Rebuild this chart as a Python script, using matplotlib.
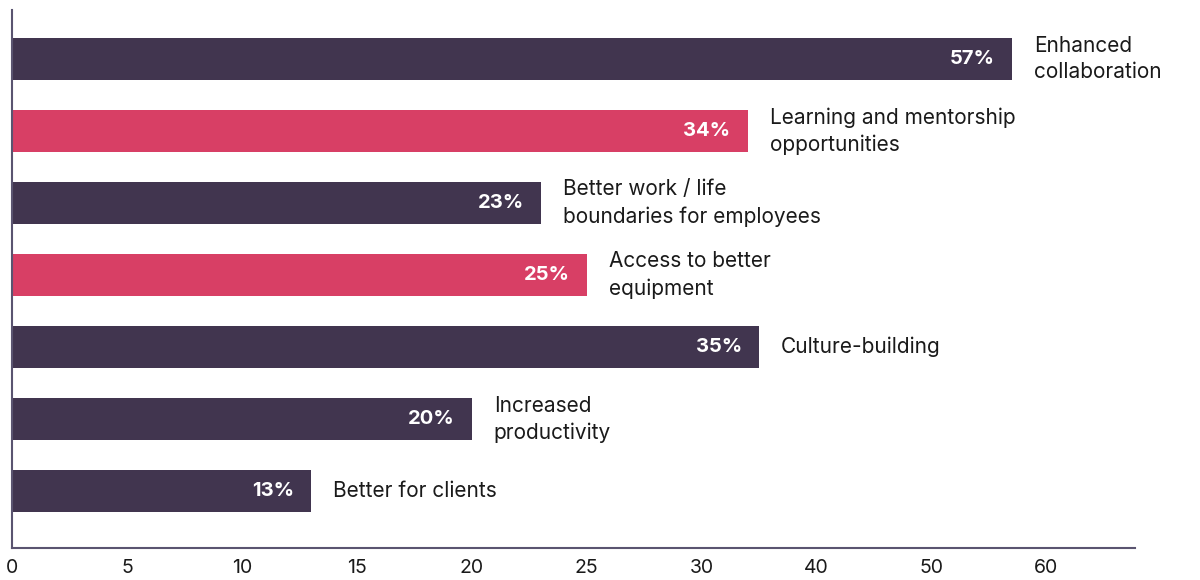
import matplotlib
matplotlib.use("Agg")
import matplotlib.pyplot as plt
import numpy as np

# Survey results: benefits of returning to the office
categories = [
    "Enhanced\ncollaboration",
    "Learning and mentorship\nopportunities",
    "Better work / life\nboundaries for employees",
    "Access to better\nequipment",
    "Culture-building",
    "Increased\nproductivity",
    "Better for clients",
]
values = [57, 34, 23, 25, 35, 20, 13]
highlight = [False, True, False, True, False, False, False]

# The axis is stretched: 5-step ticks up to 30, then 10-step ticks
tick_values = [0, 5, 10, 15, 20, 25, 30, 40, 50, 60]

DARK = "#41354f"
PINK = "#d83f65"
AXIS = "#5a5470"

plt.rcParams['font.family'] = ['Inter', 'DejaVu Sans']

# Piecewise-linear scale so every tick sits one step apart
scale_pts = tick_values + [70]
scale_idx = list(range(len(scale_pts)))


def fwd(x):
    return np.interp(x, scale_pts, scale_idx)


def inv(i):
    return np.interp(i, scale_idx, scale_pts)


fig = plt.figure(figsize=(12, 5.8), dpi=100)
ax = fig.add_axes([0.01, 0.0552, 0.9358, 0.9276])
ax.set_xscale("function", functions=(fwd, inv))

y = np.arange(len(values))
colors = [PINK if h else DARK for h in highlight]
ax.barh(y, values, height=0.583, color=colors, zorder=2)

ax.set_xlim(0, inv(9.77))
ax.set_ylim(6.79, -0.68)

# Value labels inside the bars and category labels beside them
for yi, v, label in zip(y, values, categories):
    ax.annotate(f"{v}%", xy=(v, yi), xytext=(-17, 0), textcoords="offset pixels",
                ha="right", va="center", color="white", fontsize=14.5, fontweight="bold")
    ax.annotate(label, xy=(v, yi), xytext=(22, 0), textcoords="offset pixels",
                ha="left", va="center", color="#1a1a1a", fontsize=15, linespacing=1.4)

ax.set_xticks(tick_values)
ax.set_xticklabels([str(t) for t in tick_values])
ax.tick_params(axis="x", length=0, pad=8, labelsize=14, labelcolor="#1a1a1a")
ax.set_yticks([])

for side in ["top", "right"]:
    ax.spines[side].set_visible(False)
for side in ["left", "bottom"]:
    ax.spines[side].set_color(AXIS)
    ax.spines[side].set_linewidth(1.5)

plt.savefig("out.png", dpi=100)
